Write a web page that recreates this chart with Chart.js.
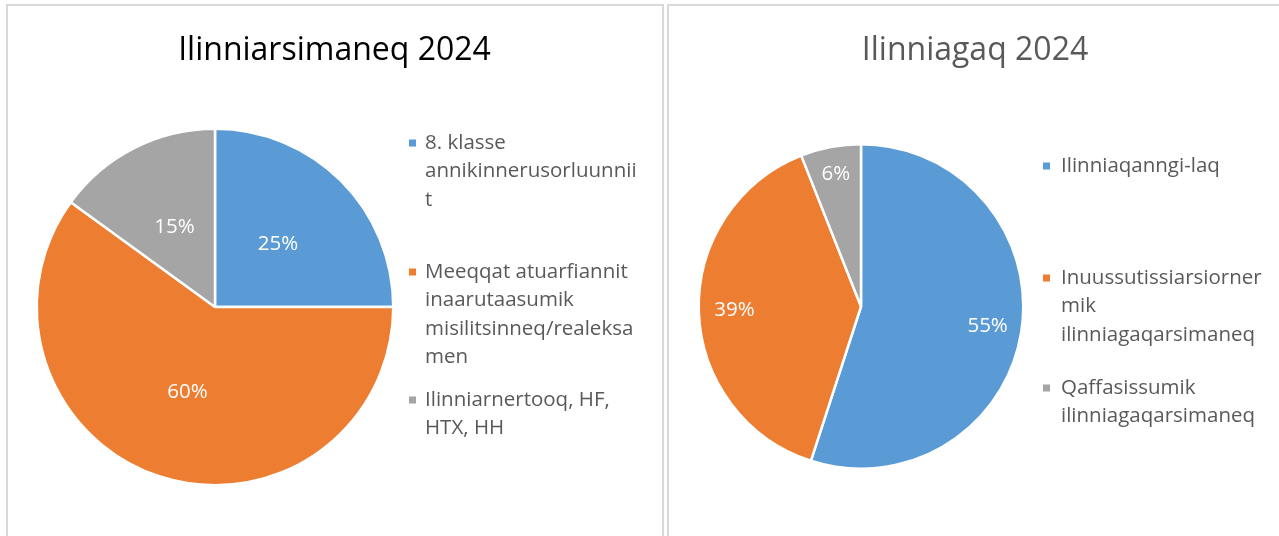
<!DOCTYPE html>
<html><head><meta charset="utf-8">
<script src="https://cdn.jsdelivr.net/npm/chart.js@4.4.1/dist/chart.umd.min.js"></script>
<style>
html,body{margin:0;padding:0;background:#fff;overflow:hidden;width:1279px;height:536px;}
.panel{position:absolute;box-sizing:border-box;border:2px solid #d9d9d9;background:#fff;}
canvas{position:absolute;}
</style></head><body>
<div class="panel" style="left:6px;top:4px;width:658px;height:600px"></div>
<div class="panel" style="left:667px;top:4px;width:700px;height:600px"></div>
<canvas id="c1" width="657" height="536" style="left:6px;top:0"></canvas>
<canvas id="c2" width="614" height="536" style="left:668px;top:0"></canvas>
<script>
// ---- data ----
const title1 = 'Ilinniarsimaneq 2024';
const categories1 = ['8. klasse annikinnerusorluunniit', 'Meeqqat atuarfiannit inaarutaasumik misilitsinneq/realeksamen', 'Ilinniarnertooq, HF, HTX, HH'];
const legendLines1 = [['8. klasse', 'annikinnerusorluunnii', 't'], ['Meeqqat atuarfiannit', 'inaarutaasumik', 'misilitsinneq/realeksa', 'men'], ['Ilinniarnertooq, HF,', 'HTX, HH']];
const values1 = [25, 60, 15];

const title2 = 'Ilinniagaq 2024';
const categories2 = ['Ilinniaqanngi-laq', 'Inuussutissiarsiornermik ilinniagaqarsimaneq', 'Qaffasissumik ilinniagaqarsimaneq'];
const legendLines2 = [['Ilinniaqanngi-laq'], ['Inuussutissiarsiorner', 'mik', 'ilinniagaqarsimaneq'], ['Qaffasissumik', 'ilinniagaqarsimaneq']];
const values2 = [55, 39, 6];

const sliceColors = ['#5B9BD5', '#ED7D31', '#A5A5A5'];

// ---- styling / layout ----
const FONT = "'Open Sans', 'Noto Sans', sans-serif";
const LEGEND_SIZE = 20.5;
const LABEL_SIZE = 20.5;
const TITLE_SIZE = 32;
const TEXT_GREY = '#595959';

function makeBox(position, width, drawFn) {
  return {
    position, weight: 10, fullSize: false, options: {},
    left: 0, top: 0, right: 0, bottom: 0, width: 0, height: 0,
    isHorizontal() { return false; },
    update(maxWidth, maxHeight) { this.width = width; this.height = maxHeight; },
    draw() { if (drawFn) drawFn(this); }
  };
}

function sideBoxesPlugin(cfg) {
  return {
    id: 'sideBoxes',
    beforeInit(chart) {
      // left spacer keeps the title centred on the whole panel
      Chart.layouts.addBox(chart, makeBox('left', cfg.leftSpace, null));
      Chart.layouts.addBox(chart, makeBox('right', cfg.width, (box) => {
        const ctx = chart.ctx;
        ctx.save();
        ctx.font = LEGEND_SIZE + 'px ' + FONT;
        ctx.textBaseline = 'middle';
        ctx.textAlign = 'left';
        const ds = chart.data.datasets[0];
        cfg.lines.forEach((lines, i) => {
          const y0 = cfg.itemY[i];
          ctx.fillStyle = ds.backgroundColor[i];
          ctx.fillRect(box.left + cfg.squareX, y0 - cfg.square / 2, cfg.square, cfg.square);
          ctx.fillStyle = TEXT_GREY;
          lines.forEach((t, j) => ctx.fillText(t, box.left + cfg.textX, y0 + j * cfg.lineH));
        });
        ctx.restore();
      }));
    }
  };
}

function pctLabelPlugin(radii) {
  return {
    id: 'pctLabels',
    afterDatasetsDraw(chart) {
      const ctx = chart.ctx;
      const meta = chart.getDatasetMeta(0);
      const data = chart.data.datasets[0].data;
      const total = data.reduce((a, b) => a + b, 0);
      ctx.save();
      ctx.font = LABEL_SIZE + 'px ' + FONT;
      ctx.fillStyle = '#ffffff';
      ctx.textAlign = 'center';
      ctx.textBaseline = 'middle';
      meta.data.forEach((arc, i) => {
        const p = arc.getProps(['x', 'y', 'startAngle', 'endAngle', 'outerRadius'], true);
        const a = (p.startAngle + p.endAngle) / 2;
        const r = p.outerRadius * radii[i];
        ctx.fillText(Math.round(data[i] / total * 100) + '%', p.x + Math.cos(a) * r, p.y + Math.sin(a) * r);
      });
      ctx.restore();
    }
  };
}

function makePie(id, title, titleColor, cats, vals, pad, titlePad, legendCfg, radii) {
  return new Chart(document.getElementById(id), {
    type: 'pie',
    data: {
      labels: cats,
      datasets: [{ data: vals, backgroundColor: sliceColors, borderColor: '#ffffff', borderWidth: 2.5 }]
    },
    options: {
      responsive: false,
      animation: false,
      events: [],
      layout: { padding: pad },
      plugins: {
        legend: { display: false },
        tooltip: { enabled: false },
        title: {
          display: true, text: title, color: titleColor,
          font: { family: FONT, size: TITLE_SIZE, weight: 'normal', lineHeight: 1.2 },
          padding: titlePad
        }
      }
    },
    plugins: [sideBoxesPlugin(legendCfg), pctLabelPlugin(radii)]
  });
}

makePie('c1', title1, '#000000', categories1, values1,
  { left: 0, right: 0, top: 0, bottom: 49.5 },
  { top: 31.5, bottom: 57.6 },
  { leftSpace: 29.5, width: 268.5, squareX: 14.5, textX: 30.5, square: 7, lineH: 28.5, itemY: [143, 272, 400], lines: legendLines1 },
  [0.5, 0.5, 0.5]);

makePie('c2', title2, TEXT_GREY, categories2, values2,
  { left: 0, right: 0, top: 0, bottom: 66 },
  { top: 31.5, bottom: 73.1 },
  { leftSpace: 29.5, width: 257.5, squareX: 18.5, textX: 36.5, square: 7, lineH: 28.5, itemY: [166, 278, 388], lines: legendLines2 },
  [0.79, 0.78, 0.83]);
</script>
</body></html>
